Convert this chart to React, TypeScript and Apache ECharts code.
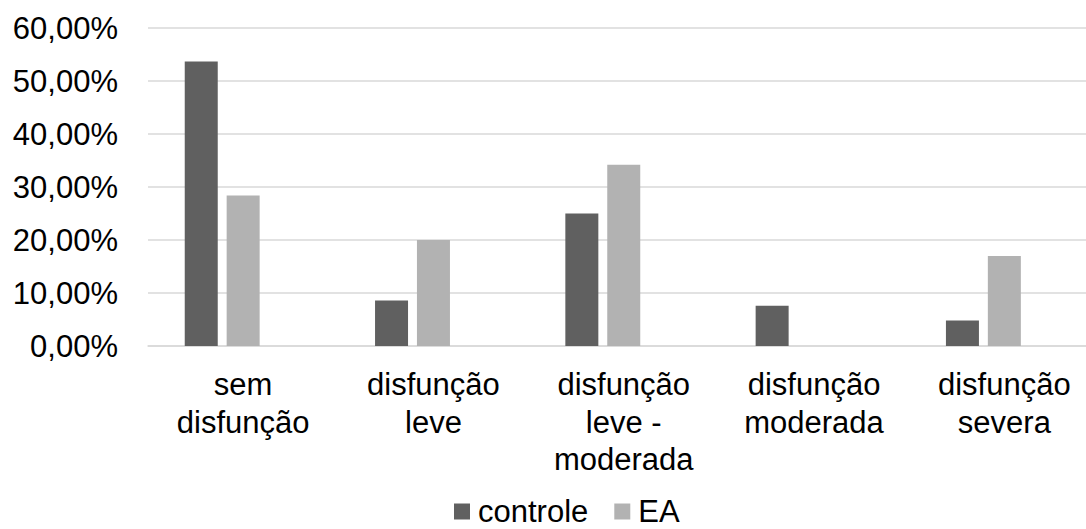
import React, { useEffect, useRef } from "react";
import * as echarts from "echarts";

const categories = [
  "sem\ndisfunção",
  "disfunção\nleve",
  "disfunção\nleve -\nmoderada",
  "disfunção\nmoderada",
  "disfunção\nsevera",
];
const controle = [53.7, 8.6, 25.0, 7.6, 4.8];
const ea = [28.4, 20.0, 34.2, 0, 17.0];
const spacer = [null, null, null, null, null];
const yTicks = { min: 0, max: 60, interval: 10 };

const FONT = "'Liberation Sans', Arial, sans-serif";

export default function App() {
  const ref = useRef<HTMLDivElement>(null);
  useEffect(() => {
    if (!ref.current) return;
    const chart = echarts.init(ref.current, undefined, { renderer: "svg" });
    chart.setOption({
      animation: false,
      backgroundColor: "#ffffff",
      textStyle: { fontFamily: FONT },
      grid: {
        left: 148,
        top: 28,
        width: 951.5,
        height: 318,
        outerBoundsMode: "none",
        containLabel: false,
      },
      legend: {
        data: ["controle", "EA"],
        left: 454,
        top: 496,
        padding: 0,
        itemWidth: 16,
        itemHeight: 16,
        itemGap: 26,
        icon: "rect",
        textStyle: {
          fontSize: 31,
          lineHeight: 31,
          color: "#000",
          fontFamily: FONT,
          padding: [0, 0, 0, 3],
        },
      },
      xAxis: {
        type: "category",
        data: categories,
        axisLine: { lineStyle: { color: "#d9d9d9", width: 1.5 } },
        axisTick: { show: false },
        axisLabel: {
          interval: 0,
          fontSize: 31,
          color: "#000",
          lineHeight: 37.5,
          margin: 20,
          fontFamily: FONT,
        },
      },
      yAxis: {
        type: "value",
        min: yTicks.min,
        max: yTicks.max,
        interval: yTicks.interval,
        axisLine: { show: false },
        axisTick: { show: false },
        splitLine: { lineStyle: { color: "#d9d9d9", width: 1.5 } },
        axisLabel: {
          fontSize: 31,
          color: "#000",
          margin: 30,
          fontFamily: FONT,
          formatter: (v: number) => v.toFixed(2).replace(".", ",") + "%",
        },
      },
      series: [
        {
          name: "controle",
          type: "bar",
          data: controle,
          barWidth: 33,
          barGap: "27%",
          itemStyle: { color: "#606060" },
        },
        {
          name: "EA",
          type: "bar",
          data: ea,
          barWidth: 33,
          barGap: "27%",
          itemStyle: { color: "#b2b2b2" },
        },
        {
          name: "spacer",
          type: "bar",
          data: spacer,
          barWidth: 33,
          barGap: "27%",
          itemStyle: { color: "transparent" },
        },
      ],
    });
    return () => chart.dispose();
  }, []);
  return (
    <div
      ref={ref}
      style={{ position: "fixed", left: 0, top: 0, width: 1086, height: 529 }}
    />
  );
}
